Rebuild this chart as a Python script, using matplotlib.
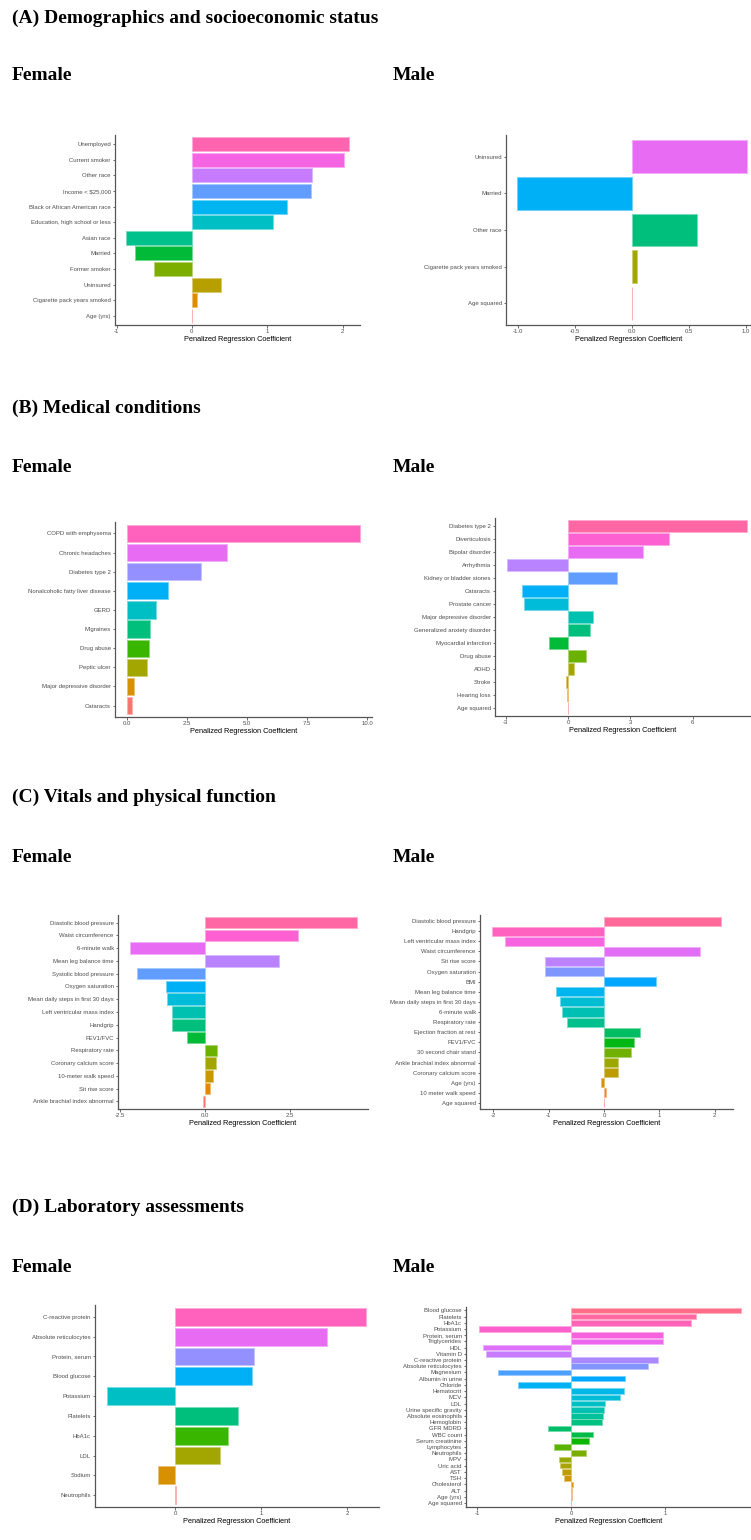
import numpy as np
import matplotlib
matplotlib.use("Agg")
import matplotlib.pyplot as plt

# ---------------- data ----------------
a_f_labels = ["Unemployed", "Current smoker", "Other race", r"Income < \$25,000",
              "Black or African American race", "Education, high school or less",
              "Asian race", "Married", "Former smoker", "Uninsured",
              "Cigarette pack years smoked", "Age (yrs)"]
a_f_values = [2.08, 2.02, 1.59, 1.58, 1.26, 1.08, -0.87, -0.76, -0.50, 0.38, 0.07, 0.0]

a_m_labels = ["Uninsured", "Married", "Other race", "Cigarette pack years smoked", "Age squared"]
a_m_values = [1.01, -1.01, 0.57, 0.04, 0.0]

b_f_labels = ["COPD with emphysema", "Chronic headaches", "Diabetes type 2",
              "Nonalcoholic fatty liver disease", "GERD", "Migraines", "Drug abuse",
              "Peptic ulcer", "Major depressive disorder", "Cataracts"]
b_f_values = [9.7, 4.17, 3.1, 1.7, 1.2, 0.96, 0.92, 0.83, 0.3, 0.2]

b_m_labels = ["Diabetes type 2", "Diverticulosis", "Bipolar disorder", "Arrhythmia",
              "Kidney or bladder stones", "Cataracts", "Prostate cancer",
              "Major depressive disorder", "Generalized anxiety disorder",
              "Myocardial infarction", "Drug abuse", "ADHD", "Stroke", "Hearing loss",
              "Age squared"]
b_m_values = [8.6, 4.85, 3.6, -2.93, 2.36, -2.2, -2.12, 1.2, 1.04, -0.9, 0.87, 0.29,
              -0.1, -0.05, 0.0]

c_f_labels = ["Diastolic blood pressure", "Waist circumference", "6-minute walk",
              "Mean leg balance time", "Systolic blood pressure", "Oxygen saturation",
              "Mean daily steps in first 30 days", "Left ventricular mass index",
              "Handgrip", "FEV1/FVC", "Respiratory rate", "Coronary calcium score",
              "10-meter walk speed", "Sit rise score", "Ankle brachial index abnormal"]
c_f_values = [4.47, 2.73, -2.2, 2.18, -2.0, -1.15, -1.12, -0.97, -0.97, -0.53, 0.35,
              0.33, 0.25, 0.15, -0.06]

c_m_labels = ["Diastolic blood pressure", "Handgrip", "Left ventricular mass index",
              "Waist circumference", "Sit rise score", "Oxygen saturation", "BMI",
              "Mean leg balance time", "Mean daily steps in first 30 days",
              "6-minute walk", "Respiratory rate", "Ejection fraction at rest",
              "FEV1/FVC", "30 second chair stand", "Ankle brachial index abnormal",
              "Coronary calcium score", "Age (yrs)", "10 meter walk speed", "Age squared"]
c_m_values = [2.12, -2.03, -1.79, 1.74, -1.07, -1.07, 0.94, -0.87, -0.80, -0.76, -0.67,
              0.65, 0.54, 0.48, 0.25, 0.25, -0.06, 0.03, 0.0]

d_f_labels = ["C-reactive protein", "Absolute reticulocytes", "Protein, serum",
              "Blood glucose", "Potassium", "Platelets", "HbA1c", "LDL", "Sodium",
              "Neutrophils"]
d_f_values = [2.22, 1.76, 0.92, 0.90, -0.79, 0.73, 0.61, 0.52, -0.20, 0.01]

d_m_labels = ["Blood glucose", "Platelets", "HbA1c", "Potassium", "Protein, serum",
              "Triglycerides", "HDL", "Vitamin D", "C-reactive protein",
              "Absolute reticulocytes", "Magnesium", "Albumin in urine", "Chloride",
              "Hematocrit", "MCV", "LDL", "Urine specific gravity",
              "Absolute eosinophils", "Hemoglobin", "GFR MDRD", "WBC count",
              "Serum creatinine", "Lymphocytes", "Neutrophils", "MPV", "Uric acid",
              "AST", "TSH", "Cholesterol", "ALT", "Age (yrs)", "Age squared"]
d_m_values = [1.80, 1.32, 1.27, -0.98, 0.97, 0.97, -0.94, -0.91, 0.92, 0.82, -0.78,
              0.57, -0.57, 0.56, 0.52, 0.36, 0.35, 0.34, 0.33, -0.25, 0.23, 0.19,
              -0.18, 0.16, -0.13, -0.12, -0.10, -0.08, 0.015, 0.005, 0.003, 0.0]

# ---------------- helpers ----------------
W, H = 751, 1540
SANS = ["Liberation Sans", "DejaVu Sans"]
SERIF = ["Liberation Serif", "DejaVu Serif"]


def hcl_hex(h, c=100.0, l=65.0):
    """Polar LUV (HCL) to sRGB, D65 white."""
    hr = np.deg2rad(h)
    U, V = c * np.cos(hr), c * np.sin(hr)
    Y = 100.0 * ((l + 16.0) / 116.0) ** 3
    Xn, Yn, Zn = 95.047, 100.0, 108.883
    den = Xn + 15 * Yn + 3 * Zn
    un, vn = 4 * Xn / den, 9 * Yn / den
    u = U / (13 * l) + un
    v = V / (13 * l) + vn
    X = 9.0 * Y * u / (4 * v)
    Z = -X / 3 - 5 * Y + 3 * Y / v
    rgb = np.array([3.240479 * X - 1.537150 * Y - 0.498535 * Z,
                    -0.969256 * X + 1.875992 * Y + 0.041556 * Z,
                    0.055648 * X - 0.204043 * Y + 1.057311 * Z]) / 100.0
    rgb = np.where(rgb > 0.0031308, 1.055 * np.abs(rgb) ** (1 / 2.4) - 0.055, 12.92 * rgb)
    return np.clip(rgb, 0, 1)


def hue_palette(n):
    hues = np.linspace(15, 375, n + 1)[:-1]
    return [hcl_hex(h) for h in hues]


def px_axes(left, top, right, bottom):
    return fig.add_axes([left / W, 1 - bottom / H, (right - left) / W, (bottom - top) / H])


def panel(rect, labels, values, xlim, ticks, ticklabels):
    ax = px_axes(*rect)
    n = len(labels)
    pal = hue_palette(n)
    colors = [pal[n - 1 - i] for i in range(n)]
    edges = [tuple(0.55 * np.array(c) + 0.45) for c in colors]
    y = np.arange(n)
    ax.barh(y, values, height=0.9, color=colors, edgecolor=edges, linewidth=0.7)
    ax.set_ylim(n - 0.4, -0.6)
    ax.set_xlim(*xlim)
    ax.set_yticks(y)
    ax.set_yticklabels(labels, fontsize=4.3, color="#4d4d4d", family=SANS)
    ax.set_xticks(ticks)
    ax.set_xticklabels(ticklabels, fontsize=4.3, color="#4d4d4d", family=SANS)
    ax.set_xlabel("Penalized Regression Coefficient", fontsize=5.3, family=SANS,
                  labelpad=1.5)
    for s in ("top", "right"):
        ax.spines[s].set_visible(False)
    for s in ("left", "bottom"):
        ax.spines[s].set_color("#555555")
        ax.spines[s].set_linewidth(0.9)
    ax.tick_params(axis="both", length=1.8, width=0.6, color="#555555", pad=1.2)
    return ax


fig = plt.figure(figsize=(W / 100, H / 100), dpi=100)
fig.patch.set_facecolor("white")


def fig_text(x, y, s, size=14.0):
    fig.text(x / W, 1 - y / H, s, fontsize=size, fontweight="bold", family=SERIF,
             ha="left", va="center")


# section and subgroup headings
fig_text(12, 18, "(A) Demographics and socioeconomic status")
fig_text(12, 76, "Female")
fig_text(393, 76, "Male")
fig_text(12, 408, "(B) Medical conditions")
fig_text(12, 468, "Female")
fig_text(393, 468, "Male")
fig_text(12, 797, "(C) Vitals and physical function")
fig_text(12, 858, "Female")
fig_text(393, 858, "Male")
fig_text(12, 1207, "(D) Laboratory assessments")
fig_text(12, 1268, "Female")
fig_text(393, 1268, "Male")

# (A)
panel((115, 135, 360, 325), a_f_labels, a_f_values, (-1.02, 2.23),
      [-1, 0, 1, 2], ["-1", "0", "1", "2"])
panel((506, 135, 751, 325), a_m_labels, a_m_values, (-1.105, 1.044),
      [-1.0, -0.5, 0.0, 0.5, 1.0], ["-1.0", "-0.5", "0.0", "0.5", "1.0"])

# (B)
panel((115, 522, 372, 717), b_f_labels, b_f_values, (-0.5, 10.2),
      [0, 2.5, 5, 7.5, 10], ["0.0", "2.5", "5.0", "7.5", "10.0"])
panel((495, 518, 751, 716), b_m_labels, b_m_values, (-3.51, 8.8),
      [-3, 0, 3, 6], ["-3", "0", "3", "6"])

# (C)
panel((118, 915, 368, 1109), c_f_labels, c_f_values, (-2.56, 4.8),
      [-2.5, 0, 2.5], ["-2.5", "0.0", "2.5"])
panel((480, 915, 733, 1109), c_m_labels, c_m_values, (-2.24, 2.33),
      [-2, -1, 0, 1, 2], ["-2", "-1", "0", "1", "2"])

# (D)
panel((95, 1305, 379, 1507), d_f_labels, d_f_values, (-0.93, 2.37),
      [0, 1, 2], ["0", "1", "2"])
panel((466, 1306.6, 751, 1506.7), d_m_labels, d_m_values, (-1.12, 1.91),
      [-1, 0, 1], ["-1", "0", "1"])

fig.savefig("out.png", dpi=100, facecolor="white")
